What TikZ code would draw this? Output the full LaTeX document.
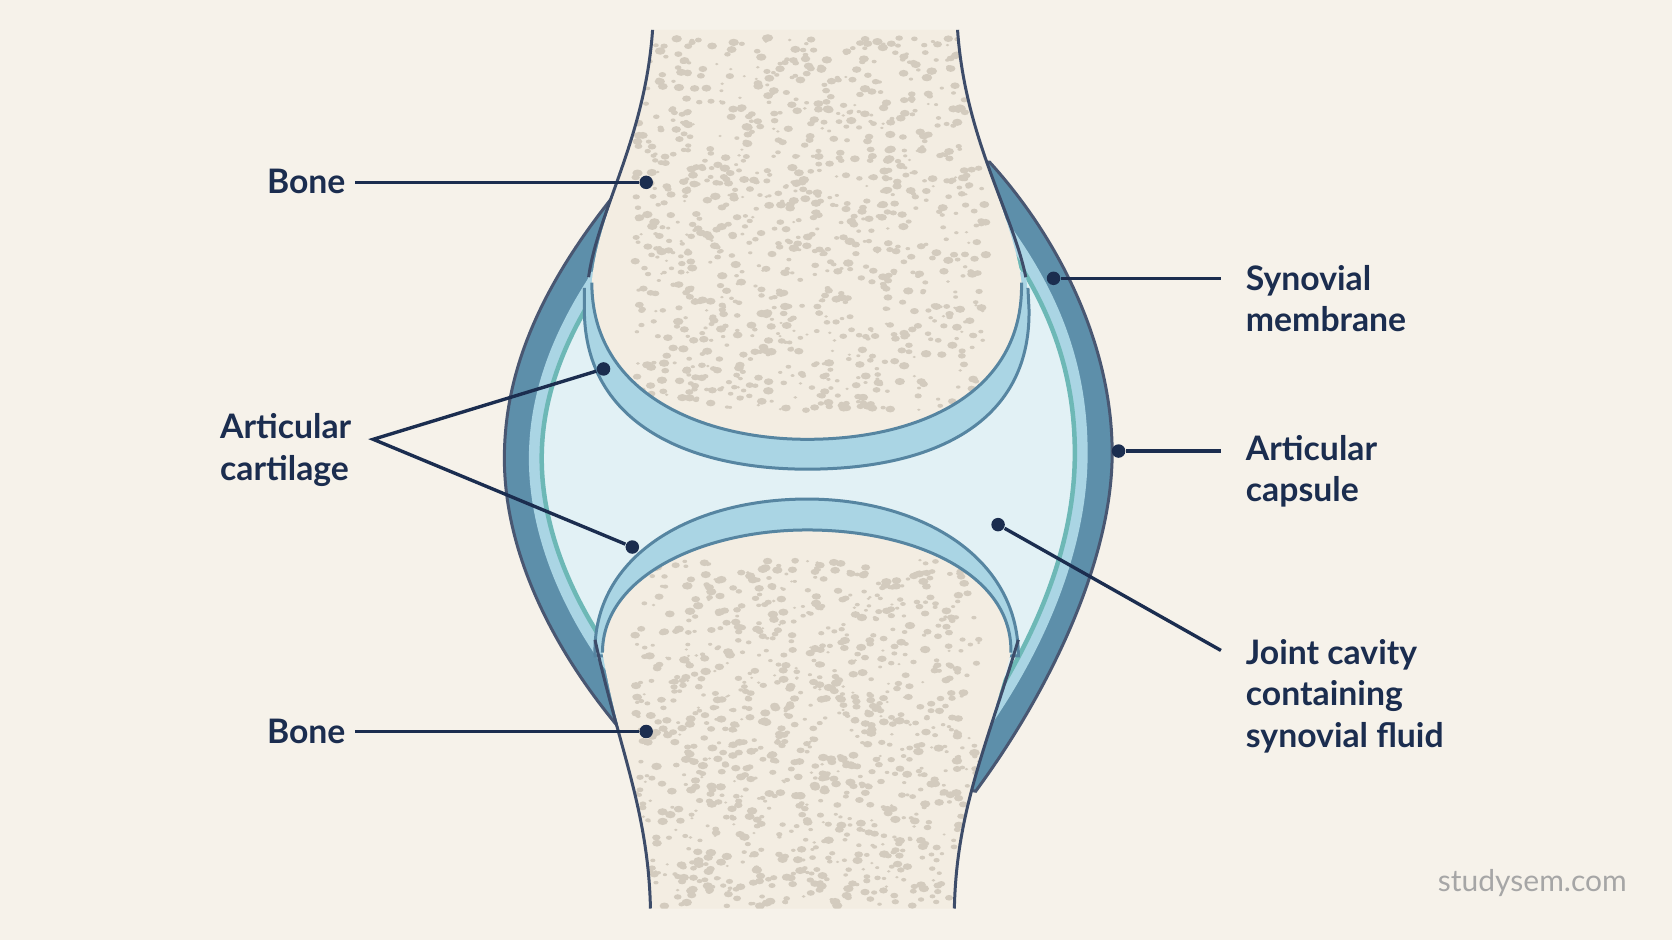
\documentclass[tikz,border=0pt]{standalone}
\usepackage{fontspec}
\setmainfont{Lato}
\definecolor{bg}{HTML}{F6F2EA}
\definecolor{navy}{HTML}{1B2D4F}
\definecolor{capsule}{HTML}{5D8FAA}
\definecolor{cart}{HTML}{AAD5E4}
\definecolor{fluid}{HTML}{E2F1F5}
\definecolor{teal}{HTML}{6DB8B6}
\definecolor{bonecol}{HTML}{F3EDE2}
\definecolor{pore}{HTML}{D3CBBE}
\tikzset{
  lbl/.style={font=\fontsize{9}{11}\selectfont\bfseries, text=navy, align=left, anchor=west},
  pin/.style={navy, line width=0.9pt},
  dot/.style={circle, fill=navy, inner sep=0pt, minimum size=3.6pt},
  edge/.style={navy!85, line width=0.8pt}
}
\newcommand{\pores}[4]{%
  \foreach \i in {1,...,1100}
  {   \pgfmathsetmacro{\px}{#1+rnd*(#2-#1)}
      \pgfmathsetmacro{\py}{#3+rnd*(#4-#3)}
      \pgfmathsetmacro{\pr}{1.5+rnd*3.5}
      \fill[pore] (\px,\py) ellipse ({\pr} and {0.7*\pr});
  }}
\begin{document}
\begin{tikzpicture}[x=0.01cm, y=-0.01cm]
\fill[bg] (0,0) rectangle (1568,882);
\useasboundingbox (0,0) rectangle (1568,882);
\pgfmathsetseed{7}
% capsule
\fill[capsule, draw=navy!80, line width=0.8pt] (580,178) .. controls (505,270) and (473,350) .. (473,430)
  .. controls (473,520) and (520,610) .. (580,682) -- (915,742)
  .. controls (990,640) and (1043,520) .. (1043,425)
  .. controls (1043,320) and (990,220) .. (928,152) -- cycle;
\fill[cart] (585,215) .. controls (525,290) and (496,360) .. (496,430)
  .. controls (496,510) and (535,590) .. (585,650) -- (915,700)
  .. controls (975,620) and (1020,520) .. (1020,425)
  .. controls (1020,330) and (985,260) .. (935,195) -- cycle;
\fill[fluid, draw=teal, line width=1.2pt] (590,230) .. controls (535,300) and (508,365) .. (508,430)
  .. controls (508,505) and (545,580) .. (590,635) -- (910,690)
  .. controls (965,610) and (1008,520) .. (1008,425)
  .. controls (1008,335) and (975,270) .. (930,210) -- cycle;
% upper bone
\fill[cart] (552,255) -- (548,290)
  .. controls (548,400) and (650,440) .. (757,440) .. controls (870,440) and (967,400) .. (965,290)
  -- (962,255) -- cycle;
\draw[capsule!90!navy, line width=0.8pt] (548,270) -- (548,290)
  .. controls (548,400) and (650,440) .. (757,440) .. controls (870,440) and (967,400) .. (965,290) -- (964,270);
\begin{scope}
\path[clip] (612,28) .. controls (605,130) and (560,200) .. (555,265)
  .. controls (555,370) and (660,412) .. (757,412) .. controls (860,412) and (960,370) .. (958,265)
  .. controls (950,200) and (905,130) .. (898,28) -- cycle;
\fill[bonecol] (500,0) rectangle (1000,450);
\pores{595}{925}{35}{385}
\end{scope}
\draw[capsule!90!navy, line width=0.8pt] (555,265) .. controls (555,370) and (660,412) .. (757,412) .. controls (860,412) and (960,370) .. (958,265);
\draw[edge] (612,28) .. controls (605,130) and (560,200) .. (552,260);
\draw[edge] (898,28) .. controls (905,130) and (950,200) .. (962,260);
% lower bone
\fill[cart, draw=capsule!90!navy, line width=0.8pt] (558,615) .. controls (555,520) and (650,468) .. (757,468)
  .. controls (860,468) and (955,520) .. (955,615) -- cycle;
\begin{scope}
\path[clip] (565,612) .. controls (565,540) and (660,497) .. (757,497)
  .. controls (860,497) and (950,540) .. (948,612)
  .. controls (925,700) and (897,760) .. (895,852) -- (610,852)
  .. controls (608,760) and (580,700) .. (565,612) -- cycle;
\fill[bonecol] (500,480) rectangle (1000,882);
\pores{595}{918}{525}{850}
\end{scope}
\draw[capsule!90!navy, line width=0.8pt] (565,612) .. controls (565,540) and (660,497) .. (757,497)
  .. controls (860,497) and (950,540) .. (948,612);
\draw[edge] (558,600) .. controls (580,700) and (608,760) .. (610,852);
\draw[edge] (955,600) .. controls (925,700) and (897,760) .. (895,852);
% labels
\node[lbl] (bone1) at (238,170) {Bone};
\node[dot] (d1) at (606,171) {};
\draw[pin] (333,171) -- (d1);
\node[lbl] (bone2) at (238,686) {Bone};
\node[dot] (d2) at (606,686) {};
\draw[pin] (333,686) -- (d2);
\node[lbl] (cartl) at (194,422) {Articular\\cartilage};
\coordinate (fork) at (350,412);
\node[dot] (d3) at (566,346) {};
\node[dot] (d4) at (593,513) {};
\draw[pin] (d3) -- (fork) -- (d4);
\node[lbl] (syn) at (1156,280) {Synovial\\membrane};
\node[dot] (d5) at (988,261) {};
\draw[pin] (1145,261) -- (d5);
\node[lbl] (caps) at (1156,442) {Articular\\capsule};
\node[dot] (d6) at (1049,423) {};
\draw[pin] (1145,423) -- (d6);
\node[lbl] (cav) at (1156,653) {Joint cavity\\containing\\synovial fluid};
\node[dot] (d7) at (936,492) {};
\draw[pin] (1145,610) -- (d7);
\node[font=\fontsize{8}{10}\selectfont, text=black!35] (wm) at (1437,828) {studysem.com};
\end{tikzpicture}
\end{document}
